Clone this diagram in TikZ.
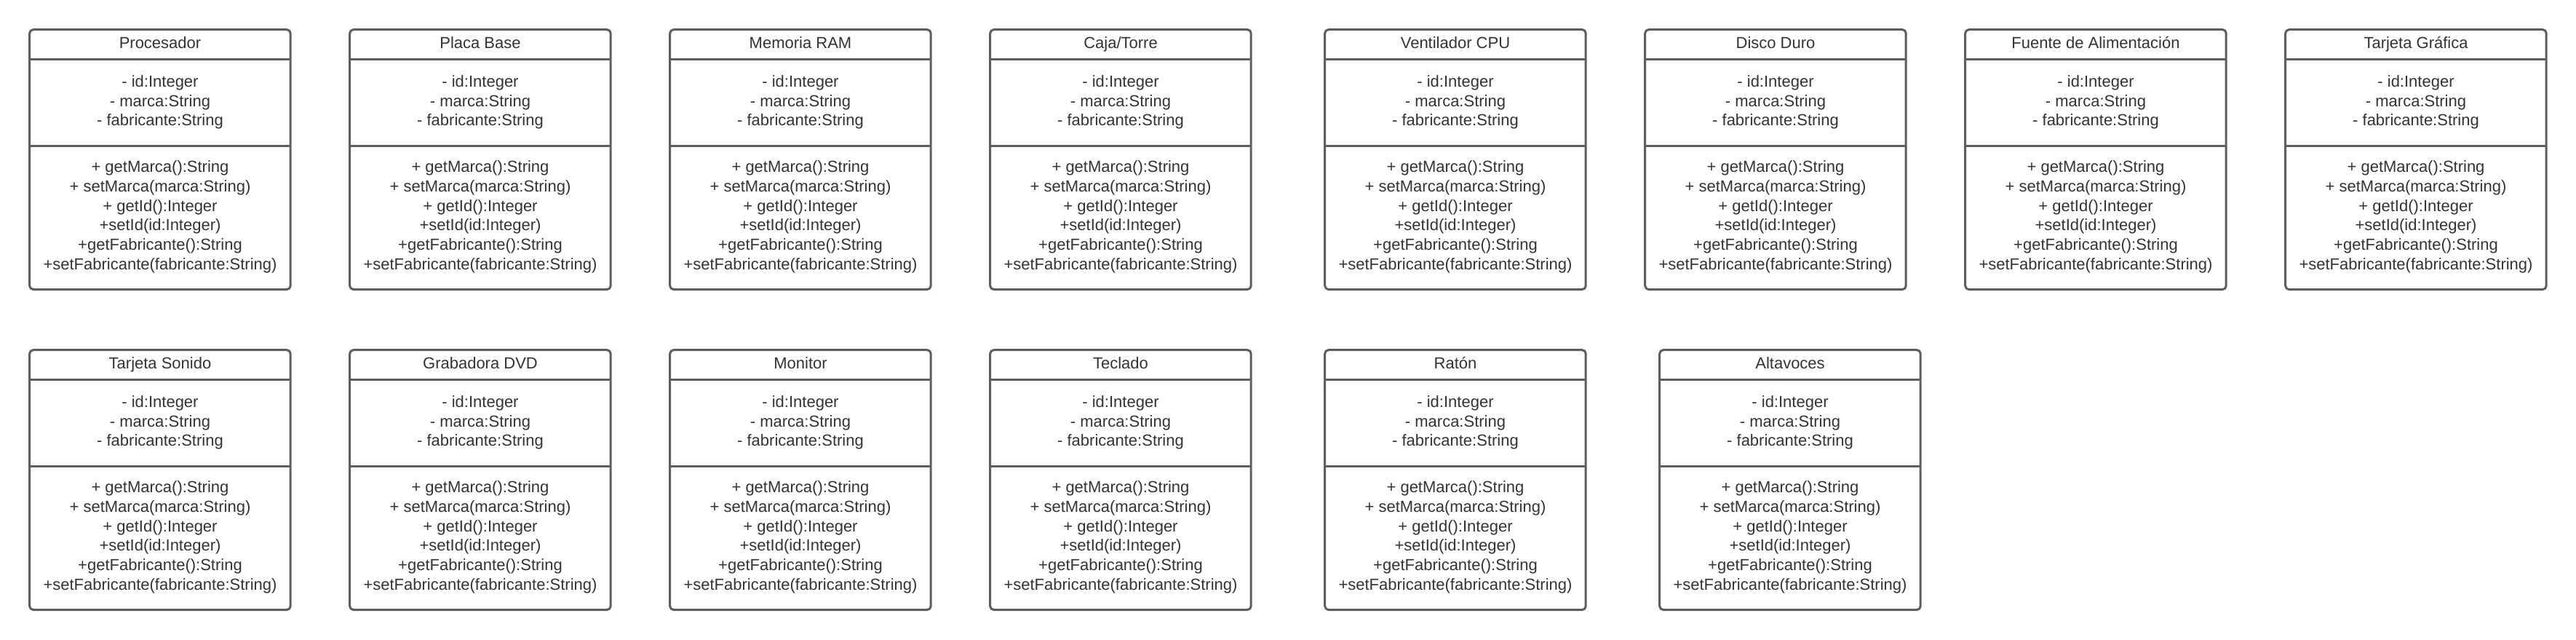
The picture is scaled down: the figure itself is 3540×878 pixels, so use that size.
\documentclass[tikz,border=0pt]{standalone}
\usepackage{fontspec}
\setmainfont{Liberation Sans}
\definecolor{umlline}{HTML}{5E5E5E}
\definecolor{umltext}{HTML}{333333}
\tikzset{
  classbox/.style={draw=umlline, line width=3pt, rounded corners=5pt, fill=white,
    inner sep=0pt, outer sep=0pt, anchor=north west,
    minimum width=358.5pt, minimum height=356.8pt},
  divline/.style={draw=umlline, line width=3pt},
  umltxt/.style={text=umltext, inner sep=0pt, anchor=base,
    font=\fontsize{22}{26.7}\selectfont}
}
\newcommand{\umlbox}[4]{%
  \node[classbox] (#1) at (#2+0.7, #3+1.7) {};
  \draw[divline] ([yshift=-41.1pt]#1.north west) -- ([yshift=-41.1pt]#1.north east);
  \draw[divline] ([yshift=-159.8pt]#1.north west) -- ([yshift=-159.8pt]#1.north east);
  \node[umltxt] (#1-t) at (#2+180, #3+27) {#4};
  \node[umltxt] (#1-a1) at (#2+180, #3+80) {- id:Integer};
  \node[umltxt] (#1-a2) at (#2+180, #3+107) {- marca:String};
  \node[umltxt] (#1-a3) at (#2+180, #3+133.7) {- fabricante:String};
  \node[umltxt] (#1-m1) at (#2+180, #3+197.7) {+ getMarca():String};
  \node[umltxt] (#1-m2) at (#2+180, #3+224.3) {+ setMarca(marca:String)};
  \node[umltxt] (#1-m3) at (#2+180, #3+251) {+ getId():Integer};
  \node[umltxt] (#1-m4) at (#2+180, #3+277.7) {+setId(id:Integer)};
  \node[umltxt] (#1-m5) at (#2+180, #3+304.3) {+getFabricante():String};
  \node[umltxt] (#1-m6) at (#2+180, #3+331) {+setFabricante(fabricante:String)};
}
\begin{document}
\begin{tikzpicture}[x=1pt, y=-1pt]
  \fill[white] (0,0) rectangle (3540,878);
  \useasboundingbox (0,0) rectangle (3540,878);
  \umlbox{proc}{40}{39}{Procesador}
  \umlbox{placa}{480}{39}{Placa Base}
  \umlbox{ram}{920}{39}{Memoria RAM}
  \umlbox{caja}{1360}{39}{Caja/Torre}
  \umlbox{vent}{1820}{39}{Ventilador CPU}
  \umlbox{disco}{2260}{39}{Disco Duro}
  \umlbox{fuente}{2700}{39}{Fuente de Alimentación}
  \umlbox{grafica}{3140}{39}{Tarjeta Gráfica}
  \umlbox{sonido}{40}{479}{Tarjeta Sonido}
  \umlbox{dvd}{480}{479}{Grabadora DVD}
  \umlbox{monitor}{920}{479}{Monitor}
  \umlbox{teclado}{1360}{479}{Teclado}
  \umlbox{raton}{1820}{479}{Ratón}
  \umlbox{altavoces}{2280}{479}{Altavoces}
\end{tikzpicture}
\end{document}
